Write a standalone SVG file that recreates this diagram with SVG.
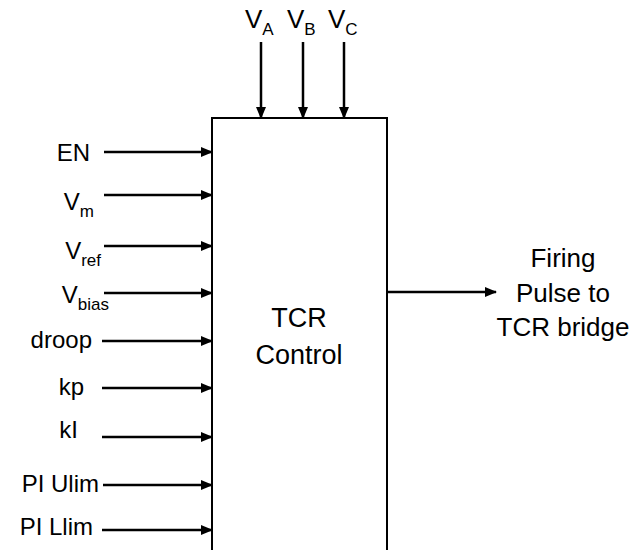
<svg xmlns="http://www.w3.org/2000/svg" width="636" height="550" viewBox="0 0 636 550">
<style>
.t{font-family:"Liberation Sans","Open Sans",sans-serif;fill:#000;}
.lbl{font-size:24px;text-anchor:end;}
.sub{font-size:17px;}
.big{font-size:27px;text-anchor:middle;}
.out{font-size:26px;text-anchor:middle;}
.ar{stroke:#000;stroke-width:2.5;fill:none;marker-end:url(#ah);}
.box{fill:#fff;stroke:#000;stroke-width:2;}
</style>
<defs>
<marker id="ah" markerUnits="userSpaceOnUse" markerWidth="12" markerHeight="10" refX="11" refY="5" orient="auto">
<path d="M0,0 L12,5 L0,10 Z" fill="#000"/>
</marker>
</defs>
<rect width="636" height="550" fill="#fff"/>
<g id="tcr-control">
<rect class="box" x="212" y="118" width="175" height="450"/>
<text class="t big" x="299" y="327">TCR</text>
<text class="t big" x="299" y="364">Control</text>
</g>
<g id="in-EN"><text class="t lbl" x="90" y="161">EN</text></g>
<g id="in-Vm"><text class="t lbl" x="94" y="210">V<tspan class="sub" dy="7">m</tspan></text></g>
<g id="in-Vref"><text class="t lbl" x="101" y="259">V<tspan class="sub" dy="7">ref</tspan></text></g>
<g id="in-Vbias"><text class="t lbl" x="109" y="303">V<tspan class="sub" dy="7">bias</tspan></text></g>
<g id="in-droop"><text class="t lbl" x="92" y="348">droop</text></g>
<g id="in-kp"><text class="t lbl" x="84" y="395">kp</text></g>
<g id="in-kI"><text class="t lbl" x="78" y="438">kI</text></g>
<g id="in-PIUlim"><text class="t lbl" x="99" y="492">PI Ulim</text></g>
<g id="in-PILlim"><text class="t lbl" x="93" y="535">PI Llim</text></g>
<g id="in-VA"><text class="t" font-size="26" x="245" y="28">V<tspan class="sub" dy="7">A</tspan></text></g>
<g id="in-VB"><text class="t" font-size="26" x="287" y="28">V<tspan class="sub" dy="7">B</tspan></text></g>
<g id="in-VC"><text class="t" font-size="26" x="328" y="28">V<tspan class="sub" dy="7">C</tspan></text></g>
<g id="out-firing">
<text class="t out" x="563" y="267">Firing</text>
<text class="t out" x="563" y="302">Pulse to</text>
<text class="t out" x="563" y="336">TCR bridge</text>
</g>
<g id="connectors">
<line class="ar" x1="104" y1="152" x2="212" y2="152"/>
<line class="ar" x1="104" y1="195" x2="212" y2="195"/>
<line class="ar" x1="104" y1="246" x2="212" y2="246"/>
<line class="ar" x1="104" y1="293" x2="212" y2="293"/>
<line class="ar" x1="102" y1="341" x2="212" y2="341"/>
<line class="ar" x1="102" y1="388" x2="212" y2="388"/>
<line class="ar" x1="102" y1="437" x2="212" y2="437"/>
<line class="ar" x1="103" y1="485" x2="212" y2="485"/>
<line class="ar" x1="102" y1="530" x2="212" y2="530"/>
<line class="ar" x1="261" y1="42" x2="261" y2="118"/>
<line class="ar" x1="303" y1="42" x2="303" y2="118"/>
<line class="ar" x1="344" y1="42" x2="344" y2="118"/>
<line class="ar" x1="387" y1="292" x2="496" y2="292"/>
</g>
</svg>
